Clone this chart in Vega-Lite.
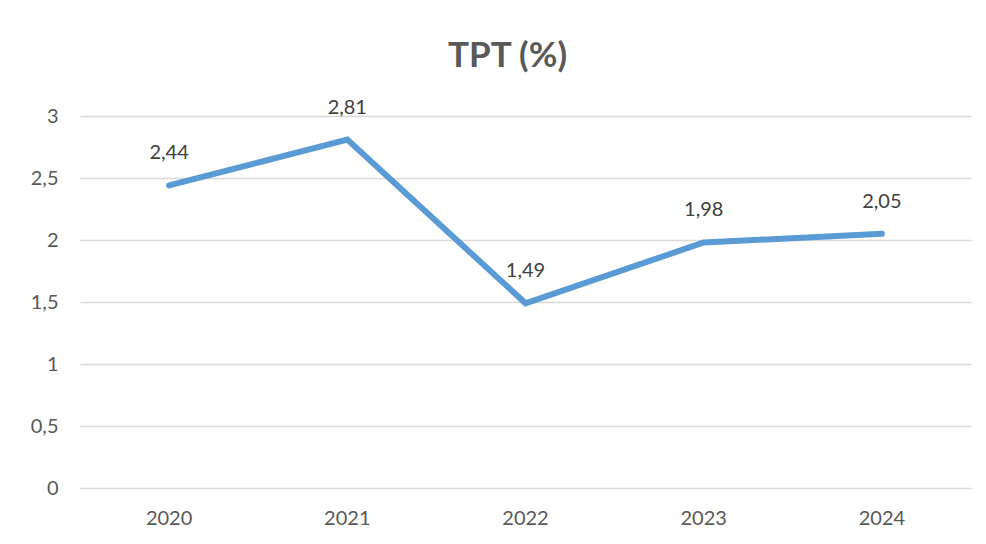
{
  "$schema": "https://vega.github.io/schema/vega-lite/v6.json",
  "width": 891,
  "height": 372,
  "autosize": {"type": "none"},
  "padding": {"left": 80, "top": 116, "right": 15, "bottom": 56},
  "background": "white",
  "config": {
    "locale": {"number": {"decimal": ",", "thousands": ".", "grouping": [3], "currency": ["", " €"]}},
    "view": {"stroke": null},
    "font": "Lato"
  },
  "title": {
    "text": "TPT (%)",
    "fontSize": 35,
    "fontWeight": "bold",
    "color": "#595959",
    "font": "Lato",
    "anchor": "middle",
    "dx": -18,
    "offset": 24
  },
  "data": {
    "values": [
      {"year": "2020", "tpt": 2.44},
      {"year": "2021", "tpt": 2.81},
      {"year": "2022", "tpt": 1.49},
      {"year": "2023", "tpt": 1.98},
      {"year": "2024", "tpt": 2.05}
    ]
  },
  "encoding": {
    "x": {
      "field": "year",
      "type": "ordinal",
      "scale": {"type": "band", "paddingInner": 0, "paddingOuter": 0},
      "axis": {
        "title": null,
        "labelAngle": 0,
        "domain": false,
        "ticks": false,
        "labelFontSize": 20,
        "labelColor": "#595959",
        "labelPadding": 20,
        "grid": false
      }
    },
    "y": {
      "field": "tpt",
      "type": "quantitative",
      "scale": {"domain": [0, 3], "nice": false},
      "axis": {
        "title": null,
        "values": [0, 0.5, 1, 1.5, 2, 2.5, 3],
        "format": "~g",
        "domain": false,
        "ticks": false,
        "labelFontSize": 20,
        "labelColor": "#595959",
        "labelPadding": 22,
        "gridColor": "#d9d9d9",
        "gridWidth": 1.5
      }
    }
  },
  "layer": [
    {
      "mark": {"type": "line", "color": "#5B9BD5", "strokeWidth": 6, "strokeCap": "round", "strokeJoin": "miter"}
    },
    {
      "mark": {"type": "text", "fontSize": 20, "color": "#404040", "dy": -32, "baseline": "middle"},
      "encoding": {
        "text": {"field": "tpt", "type": "quantitative", "format": ".2f"}
      }
    }
  ]
}
